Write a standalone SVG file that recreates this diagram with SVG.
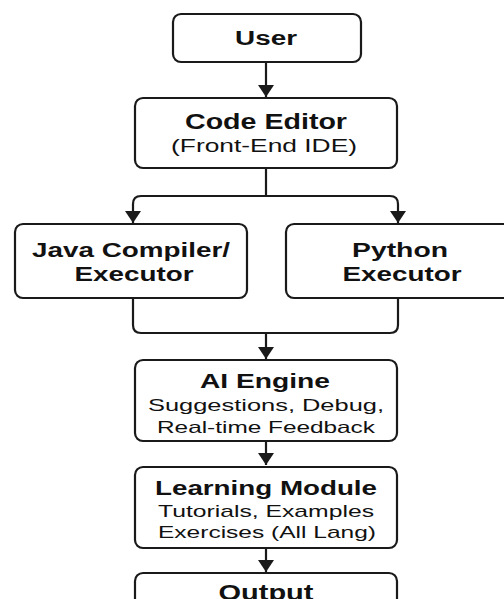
<svg xmlns="http://www.w3.org/2000/svg" width="504" height="599" viewBox="0 0 504 599">
<style>
.box{fill:#fff;stroke:#1a1a1a;stroke-width:2.2}
.ln{fill:none;stroke:#1a1a1a;stroke-width:2.2}
.t{font-family:"Liberation Sans",Arial,sans-serif;fill:#111;text-anchor:middle}
.b{font-weight:bold}
</style>
<defs>
<marker id="ah" markerUnits="userSpaceOnUse" markerWidth="16" markerHeight="16" refX="12" refY="8" orient="auto">
<path d="M0,0 L12,8 L0,16 z" fill="#1a1a1a"/>
</marker>
</defs>
<rect width="504" height="599" fill="#fff"/>
<g id="connectors">
<path class="ln" d="M266 62 V97" marker-end="url(#ah)"/>
<path class="ln" d="M266 168 V196"/>
<path class="ln" d="M266 196 H141 Q133 196 133 204 V223" marker-end="url(#ah)"/>
<path class="ln" d="M266 196 H390 Q398 196 398 204 V223" marker-end="url(#ah)"/>
<path class="ln" d="M133 298 V325 Q133 333 141 333 H390 Q398 333 398 325 V298"/>
<path class="ln" d="M266 333 V359" marker-end="url(#ah)"/>
<path class="ln" d="M266 441 V465" marker-end="url(#ah)"/>
<path class="ln" d="M266 548 V572" marker-end="url(#ah)"/>
</g>
<g id="user">
<rect class="box" x="173" y="14" width="188" height="48" rx="8"/>
<text class="t b" x="266" y="45" font-size="20" textLength="62" lengthAdjust="spacingAndGlyphs">User</text>
</g>
<g id="code-editor">
<rect class="box" x="135" y="98" width="262" height="70" rx="8"/>
<text class="t b" x="266" y="129" font-size="22" textLength="162" lengthAdjust="spacingAndGlyphs">Code Editor</text>
<text class="t" x="264" y="152" font-size="18" textLength="186" lengthAdjust="spacingAndGlyphs">(Front-End IDE)</text>
</g>
<g id="java">
<rect class="box" x="15" y="224" width="232" height="74" rx="8"/>
<text class="t b" x="131" y="257" font-size="20" textLength="198" lengthAdjust="spacingAndGlyphs">Java Compiler/</text>
<text class="t b" x="134" y="281" font-size="20" textLength="119" lengthAdjust="spacingAndGlyphs">Executor</text>
</g>
<g id="python">
<rect class="box" x="286" y="224" width="232" height="74" rx="8"/>
<text class="t b" x="400" y="257" font-size="20" textLength="96" lengthAdjust="spacingAndGlyphs">Python</text>
<text class="t b" x="402" y="281" font-size="20" textLength="119" lengthAdjust="spacingAndGlyphs">Executor</text>
</g>
<g id="ai-engine">
<rect class="box" x="135" y="360" width="262" height="81" rx="8"/>
<text class="t b" x="265" y="388" font-size="21" textLength="130" lengthAdjust="spacingAndGlyphs">AI Engine</text>
<text class="t" x="266" y="411" font-size="16.5" textLength="236" lengthAdjust="spacingAndGlyphs">Suggestions, Debug,</text>
<text class="t" x="266" y="433" font-size="16.5" textLength="218" lengthAdjust="spacingAndGlyphs">Real-time Feedback</text>
</g>
<g id="learning-module">
<rect class="box" x="135" y="467" width="262" height="81" rx="8"/>
<text class="t b" x="266" y="495" font-size="20" textLength="222" lengthAdjust="spacingAndGlyphs">Learning Module</text>
<text class="t" x="266" y="517" font-size="17" textLength="216" lengthAdjust="spacingAndGlyphs">Tutorials, Examples</text>
<text class="t" x="267" y="538" font-size="17" textLength="218" lengthAdjust="spacingAndGlyphs">Exercises (All Lang)</text>
</g>
<g id="output">
<rect class="box" x="135" y="573" width="262" height="60" rx="8"/>
<text class="t b" x="266" y="600" font-size="22" textLength="95" lengthAdjust="spacingAndGlyphs">Output</text>
</g>
</svg>
